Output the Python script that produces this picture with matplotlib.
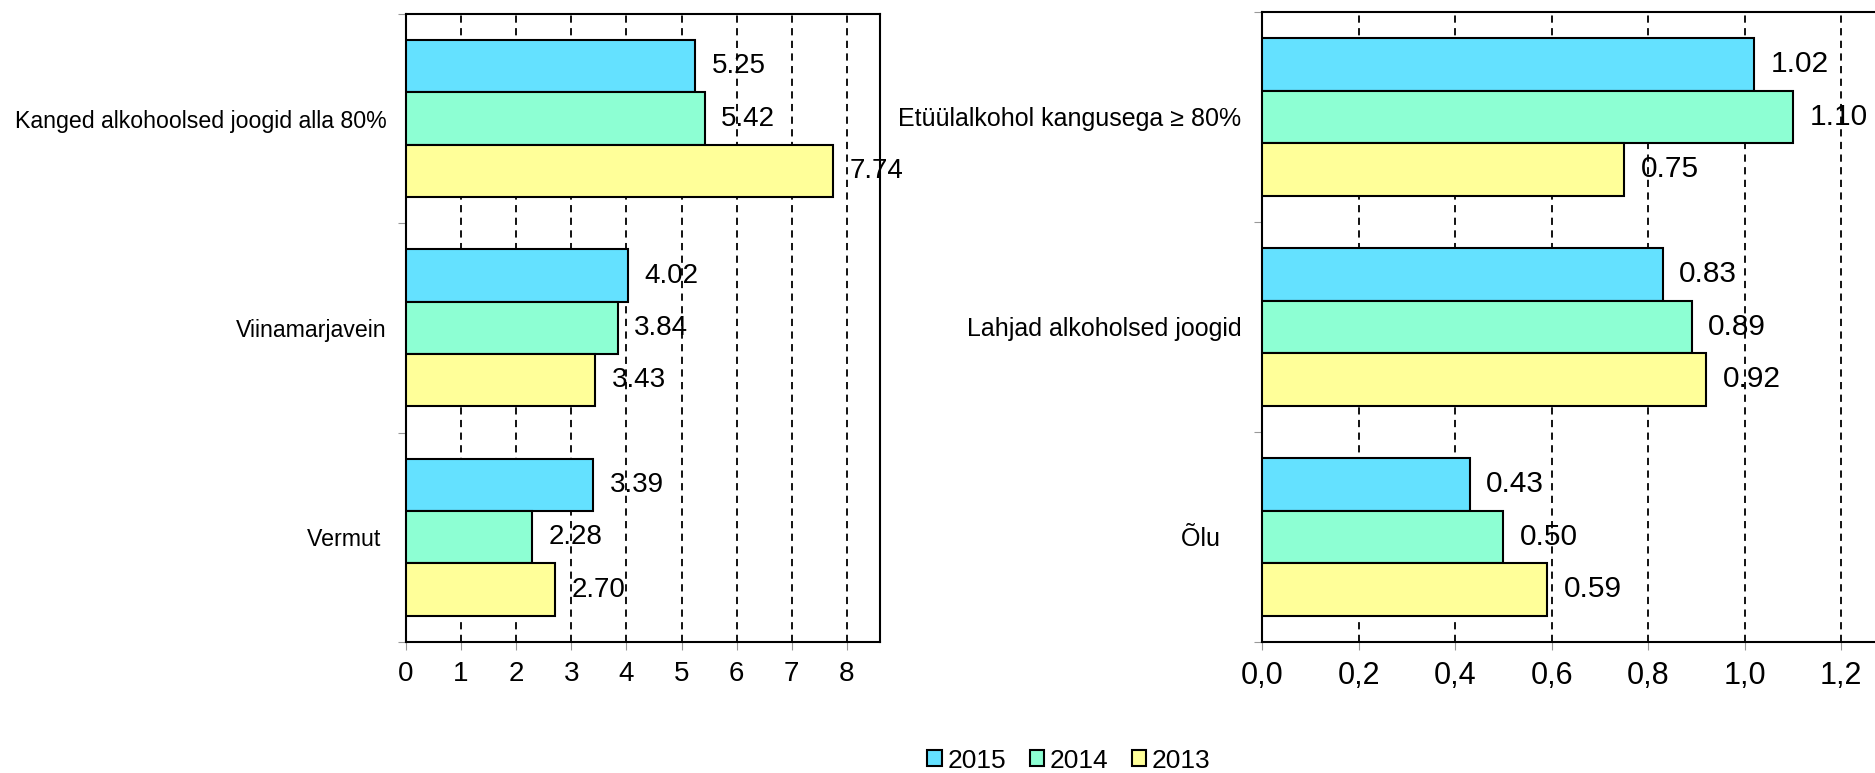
import numpy as np
import matplotlib.pyplot as plt
from matplotlib.ticker import FuncFormatter

plt.rcParams['font.family'] = ['Liberation Sans', 'DejaVu Sans']

years = ['2015', '2014', '2013']
colors = ['#64E1FF', '#8DFFD3', '#FFFF99']

left_cats = ['Kanged alkohoolsed joogid alla 80%', 'Viinamarjavein', 'Vermut ']
left_vals = {
    '2015': [5.25, 4.02, 3.39],
    '2014': [5.42, 3.84, 2.28],
    '2013': [7.74, 3.43, 2.70],
}

right_cats = ['Etüülalkohol kangusega ≥ 80%', 'Lahjad alkoholsed joogid', 'Õlu   ']
right_vals = {
    '2015': [1.02, 0.83, 0.43],
    '2014': [1.10, 0.89, 0.50],
    '2013': [0.75, 0.92, 0.59],
}

fig = plt.figure(figsize=(18.75, 7.73), dpi=100)
ax1 = fig.add_axes([0.2165, 0.1695, 0.2528, 0.8124])
ax2 = fig.add_axes([0.6731, 0.1695, 0.3294, 0.8150])


def draw(ax, cats, vals, xmax, ticks, fmt, catsize, valsize, ticksize, cpad):
    n = len(cats)
    centers = np.arange(n)[::-1].astype(float)  # first category on top
    h = 0.25
    for j, y in enumerate(years):
        offs = (1 - j) * h
        bars = ax.barh(centers + offs, vals[y], height=h, color=colors[j],
                       edgecolor='black', linewidth=1.5, zorder=3, label=y)
        for b, v in zip(bars, vals[y]):
            ax.annotate(f'{v:.2f}', (b.get_width(), b.get_y() + h / 2),
                        xytext=(12, 0), textcoords='offset points',
                        ha='left', va='center', fontsize=valsize, zorder=4)
    ax.set_xlim(0, xmax)
    ax.set_ylim(-0.5, n - 0.5)
    ax.set_xticks(ticks)
    ax.xaxis.set_major_formatter(FuncFormatter(fmt))
    ax.set_yticks(np.arange(n + 1) - 0.5)
    ax.set_yticklabels([])
    ax.set_yticks(centers, minor=True)
    ax.set_yticklabels(cats, minor=True, fontsize=catsize)
    ax.tick_params(axis='y', which='minor', length=0, pad=cpad)
    ax.tick_params(axis='y', which='major', length=6, color='#999999', direction='out')
    ax.tick_params(axis='x', length=6, color='#999999', labelsize=ticksize, pad=8)
    for t in ticks:
        if t > 0:
            ax.axvline(t, color='black', linestyle=(0, (4, 3)), linewidth=1.3, zorder=1)
    for s in ax.spines.values():
        s.set_linewidth(1.5)
        s.set_color('black')


draw(ax1, left_cats, left_vals, 8.6, np.arange(0, 9), lambda v, p: f'{v:.0f}',
     16.7, 20, 20, 14)
draw(ax2, right_cats, right_vals, 1.28, np.arange(0, 1.21, 0.2),
     lambda v, p: f'{v:.1f}'.replace('.', ','), 18, 21.5, 22, 15)

handles, labels = ax1.get_legend_handles_labels()
fig.legend(handles, labels, loc='center', bbox_to_anchor=(0.570, 0.016), ncol=3,
           frameon=False, fontsize=19, handlelength=0.55, handleheight=0.55,
           handletextpad=0.2, columnspacing=0.9)

fig.savefig('out.png', dpi=100)
